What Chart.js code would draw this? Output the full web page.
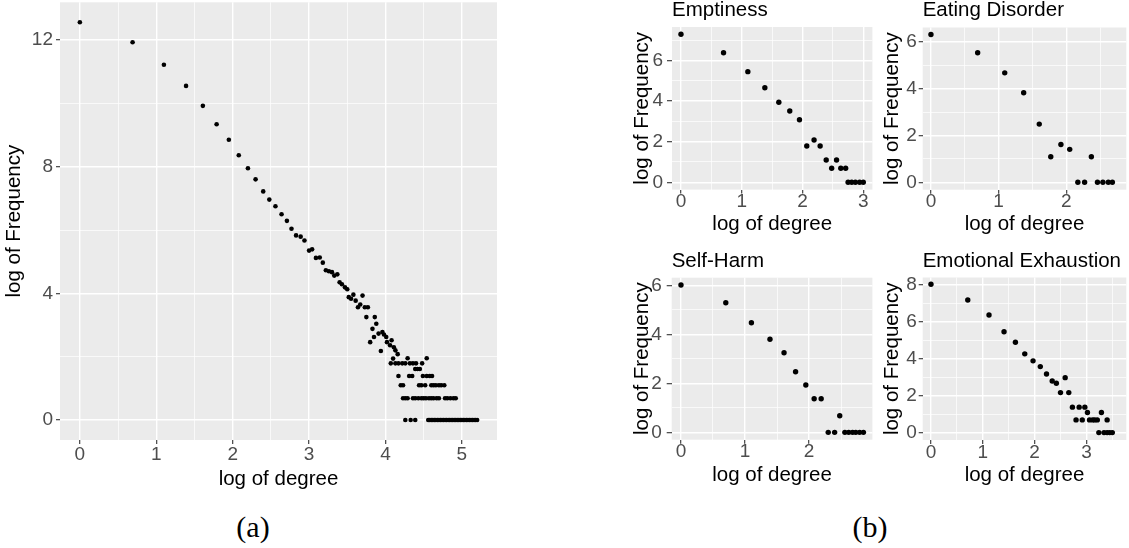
<!DOCTYPE html>
<html><head><meta charset="utf-8">
<script src="https://cdn.jsdelivr.net/npm/chart.js@4.4.1/dist/chart.umd.min.js"></script>
<style>
html,body{margin:0;padding:0;background:#fff;}
#wrap{position:relative;width:1129px;height:548px;overflow:hidden;background:#fff;}
canvas{position:absolute;}
.cap{position:absolute;font-family:'Liberation Serif','DejaVu Serif',serif;font-size:30px;color:#000;transform:translate(-50%,-50%);white-space:nowrap;}
</style></head><body>
<div id="wrap">
<canvas id="cMain" style="left:0px;top:0px;width:530px;height:500px" width="530" height="500"></canvas>
<canvas id="cEmpt" style="left:610px;top:0px;width:280px;height:240px" width="280" height="240"></canvas>
<canvas id="cEat" style="left:870px;top:0px;width:259px;height:240px" width="259" height="240"></canvas>
<canvas id="cSelf" style="left:610px;top:250px;width:280px;height:250px" width="280" height="250"></canvas>
<canvas id="cEmo" style="left:870px;top:250px;width:259px;height:250px" width="259" height="250"></canvas>
<div class="cap" style="left:253px;top:527px">(a)</div>
<div class="cap" style="left:870px;top:527px">(b)</div>
</div>
<script>
// ---------- DATA ----------
const mainX = [
  0, 0.69, 1.10, 1.39, 1.61, 1.79, 1.95, 2.08, 2.20, 2.30,
  2.40, 2.48, 2.56, 2.64, 2.71, 2.77, 2.83, 2.89, 2.94, 3.00,
  3.04, 3.09, 3.14, 3.18, 3.22, 3.26, 3.30, 3.33, 3.37, 3.40,
  3.43, 3.47, 3.50, 3.52, 3.55, 3.58, 3.61, 3.64, 3.67, 3.70,
  3.73, 3.75, 3.77, 3.80, 3.83, 3.85, 3.86, 3.88, 3.91, 3.94,
  3.96, 3.98, 4.01, 4.02, 4.06, 4.08, 4.10, 4.11, 4.13, 4.16,
  4.07, 4.13, 4.17, 4.22, 4.26, 4.32, 4.36, 4.40, 4.48,
  4.29, 4.54,
  4.39, 4.42, 4.45,
  4.17, 4.31, 4.35, 4.49, 4.54, 4.58, 4.61,
  4.20, 4.23, 4.44, 4.47, 4.52, 4.60, 4.63, 4.66, 4.70, 4.73, 4.77,
  4.23, 4.26, 4.29, 4.36, 4.39, 4.43, 4.47, 4.50, 4.53, 4.57, 4.60, 4.63, 4.67, 4.70, 4.78, 4.81, 4.85, 4.89, 4.92,
  4.26, 4.33, 4.39, 4.56, 4.58, 4.60, 4.62, 4.64, 4.66, 4.68, 4.70, 4.72, 4.74, 4.76, 4.78, 4.80, 4.82, 4.84, 4.86,
  4.88, 4.90, 4.92, 4.94, 4.96, 4.98, 5.00, 5.02, 5.04, 5.06, 5.08, 5.10, 5.12, 5.14, 5.16, 5.18, 5.20
];
const mainY = [
  12.56, 11.93, 11.22, 10.55, 9.92, 9.34, 8.85, 8.36, 7.95, 7.60,
  7.22, 6.96, 6.75, 6.50, 6.29, 6.04, 5.83, 5.79, 5.67, 5.35,
  5.39, 5.12, 5.13, 4.97, 4.73, 4.70, 4.67, 4.56, 4.60, 4.35,
  4.29, 4.19, 4.13, 3.88, 3.83, 3.96, 3.77, 3.56, 3.65, 3.93,
  3.56, 3.25, 3.56, 2.46, 2.88, 2.62, 3.25, 3.04, 2.73, 2.18,
  2.78, 2.70, 2.62, 2.46, 2.36, 2.52, 1.94, 2.30, 2.20, 2.08,
  1.79, 1.79, 1.79, 1.79, 1.79, 1.79, 1.79, 1.79, 1.79,
  1.95, 1.95,
  1.61, 1.61, 1.61,
  1.39, 1.39, 1.39, 1.39, 1.39, 1.39, 1.39,
  1.10, 1.10, 1.10, 1.10, 1.10, 1.10, 1.10, 1.10, 1.10, 1.10, 1.10,
  0.69, 0.69, 0.69, 0.69, 0.69, 0.69, 0.69, 0.69, 0.69, 0.69, 0.69, 0.69, 0.69, 0.69, 0.69, 0.69, 0.69, 0.69, 0.69,
  0, 0, 0, 0, 0, 0, 0, 0, 0, 0, 0, 0, 0, 0, 0, 0, 0, 0, 0,
  0, 0, 0, 0, 0, 0, 0, 0, 0, 0, 0, 0, 0, 0, 0, 0, 0
];

const emptinessX = [0, 0.70, 1.10, 1.38, 1.61, 1.79, 1.95, 2.07, 2.19, 2.29, 2.39, 2.48, 2.56, 2.63, 2.71, 2.75, 2.81, 2.87, 2.94, 3.00];
const emptinessY = [7.29, 6.38, 5.45, 4.66, 3.94, 3.51, 3.08, 1.79, 2.08, 1.79, 1.10, 0.69, 1.10, 0.69, 0.69, 0, 0, 0, 0, 0];

const eatingX = [0, 0.69, 1.09, 1.37, 1.60, 1.77, 1.92, 2.05, 2.17, 2.27, 2.37, 2.46, 2.54, 2.62, 2.68];
const eatingY = [6.32, 5.54, 4.68, 3.83, 2.49, 1.09, 1.62, 1.41, 0, 0, 1.09, 0, 0, 0, 0];

const selfHarmX = [0, 0.70, 1.10, 1.39, 1.61, 1.79, 1.95, 2.08, 2.19, 2.30, 2.40, 2.48, 2.56, 2.62, 2.68, 2.73, 2.79, 2.85];
const selfHarmY = [6.01, 5.29, 4.47, 3.80, 3.25, 2.47, 1.93, 1.37, 1.37, 0, 0, 0.68, 0, 0, 0, 0, 0, 0];

const exhaustionX = [0, 0.71, 1.12, 1.41, 1.63, 1.81, 1.97, 2.11, 2.23, 2.34, 2.42, 2.50, 2.59, 2.66, 2.73, 2.80,
  2.86, 2.92, 2.97, 3.02, 3.06, 3.12, 3.16, 3.21, 3.24, 3.29, 3.34, 3.40, 3.40, 3.45, 3.50];
const exhaustionY = [8.04, 7.19, 6.38, 5.47, 4.90, 4.27, 3.89, 3.58, 3.18, 2.80, 2.68, 2.17, 2.98, 2.17, 1.38, 0.69,
  1.38, 0.69, 1.38, 1.09, 0.69, 0.69, 0.69, 0.69, 0, 1.09, 0, 0, 0.69, 0, 0];

// tick labels (major) and minor grid positions
const mainXTicks = [0, 1, 2, 3, 4, 5],  mainXMinor = [0.5, 1.5, 2.5, 3.5, 4.5];
const mainYTicks = [0, 4, 8, 12],       mainYMinor = [2, 6, 10];
const emptXTicks = [0, 1, 2, 3],        emptXMinor = [0.5, 1.5, 2.5];
const emptYTicks = [0, 2, 4, 6],        emptYMinor = [1, 3, 5, 7];
const eatXTicks = [0, 1, 2],            eatXMinor = [0.5, 1.5, 2.5];
const eatYTicks = [0, 2, 4, 6],         eatYMinor = [1, 3, 5];
const selfXTicks = [0, 1, 2],           selfXMinor = [0.5, 1.5, 2.5];
const selfYTicks = [0, 2, 4, 6],        selfYMinor = [1, 3, 5];
const emoXTicks = [0, 1, 2, 3],         emoXMinor = [0.5, 1.5, 2.5, 3.5];
const emoYTicks = [0, 2, 4, 6, 8],      emoYMinor = [1, 3, 5, 7];

const xTitle = 'log of degree';
const yTitle = 'log of Frequency';

// ---------- RENDERING ----------
const FAM = "'Liberation Sans', Arial, Helvetica, sans-serif";
const bgPlugin = {
  id: 'panelBg',
  beforeDraw(chart) {
    const {ctx, chartArea: a} = chart;
    ctx.save();
    ctx.fillStyle = '#EBEBEB';
    ctx.fillRect(a.left, a.top, a.right - a.left, a.bottom - a.top);
    ctx.restore();
  }
};
const isMaj = (list, v) => list.some(m => Math.abs(m - v) < 1e-9);

function axis(o, horizontal) {
  const all = o.major.concat(o.minor).sort((a, b) => a - b);
  return {
    type: 'linear',
    position: horizontal ? 'bottom' : 'left',
    min: o.range[0], max: o.range[1],
    afterBuildTicks: s => { s.ticks = all.map(v => ({value: v})); },
    afterFit: s => {
      if (horizontal) s.height = o.size; else s.width = o.size;
      s.paddingTop = 0; s.paddingBottom = 0; s.paddingLeft = 0; s.paddingRight = 0;
    },
    border: {display: false},
    grid: {
      drawOnChartArea: true, drawTicks: true,
      tickLength: o.tickLen, tickWidth: 1.1,
      color: '#FFFFFF',
      lineWidth: c => (c.tick && isMaj(o.major, c.tick.value)) ? 1.4 : 0.7,
      tickColor: c => (c.tick && isMaj(o.major, c.tick.value)) ? '#333333' : 'rgba(0,0,0,0)'
    },
    ticks: {
      autoSkip: false, maxRotation: 0, minRotation: 0,
      padding: o.tickPad, color: '#4D4D4D',
      font: {family: FAM, size: 19, lineHeight: 1.2},
      callback: v => isMaj(o.major, v) ? String(v) : ''
    },
    title: {
      display: true, text: horizontal ? xTitle : yTitle, color: '#000000',
      font: {family: FAM, size: 20.5, lineHeight: 1.2},
      padding: horizontal ? {top: 0, bottom: 0} : {top: o.titlePad, bottom: 0}
    }
  };
}

function panel(p) {
  const pts = p.xs.map((x, i) => ({x: x, y: p.ys[i]}));
  return new Chart(document.getElementById(p.id), {
    type: 'scatter',
    data: {datasets: [{data: pts, backgroundColor: '#000000', borderWidth: 0, pointRadius: p.radius, pointHoverRadius: p.radius}]},
    options: {
      responsive: false, animation: false, events: [],
      layout: {padding: p.pad},
      scales: {x: axis(p.x, true), y: axis(p.y, false)},
      plugins: {
        legend: {display: false}, tooltip: {enabled: false},
        title: p.title ? {
          display: true, text: p.title, align: 'start', fullSize: false, position: 'top',
          color: '#000000', font: {family: FAM, size: 20.5, weight: 'normal', lineHeight: 1},
          padding: {top: p.titleTop, bottom: p.titleBottom}
        } : {display: false}
      }
    },
    plugins: [bgPlugin]
  });
}

panel({id: 'cMain', xs: mainX, ys: mainY, radius: 2.3,
  pad: {left: 0, top: 0, right: 33, bottom: 8},
  x: {range: [-0.26, 5.46], major: mainXTicks, minor: mainXMinor, size: 52, tickLen: 4, tickPad: -1},
  y: {range: [-0.63, 13.19], major: mainYTicks, minor: mainYMinor, size: 60, tickLen: 4, tickPad: 3, titlePad: 2}});

panel({id: 'cEmpt', xs: emptinessX, ys: emptinessY, radius: 2.7, title: 'Emptiness', titleTop: 0.5, titleBottom: 6,
  pad: {left: 0, top: 0, right: 17.6, bottom: 3.5},
  x: {range: [-0.148, 3.15], major: emptXTicks, minor: emptXMinor, size: 46.9, tickLen: 4, tickPad: -3.5},
  y: {range: [-0.36, 7.65], major: emptYTicks, minor: emptYMinor, size: 62, tickLen: 5, tickPad: 4, titlePad: 20}});

panel({id: 'cEat', xs: eatingX, ys: eatingY, radius: 2.7, title: 'Eating Disorder', titleTop: 0.5, titleBottom: 6.5,
  pad: {left: 0, top: 0, right: 2.3, bottom: 3.5},
  x: {range: [-0.122, 2.886], major: eatXTicks, minor: eatXMinor, size: 46.8, tickLen: 4, tickPad: -3.5},
  y: {range: [-0.316, 6.62], major: eatYTicks, minor: eatYMinor, size: 52.7, tickLen: 4, tickPad: 2, titlePad: 10.5}});

panel({id: 'cSelf', xs: selfHarmX, ys: selfHarmY, radius: 2.7, title: 'Self-Harm', titleTop: 1, titleBottom: 6.2,
  pad: {left: 0, top: 0, right: 17.6, bottom: 12.5},
  x: {range: [-0.145, 2.99], major: selfXTicks, minor: selfXMinor, size: 47.8, tickLen: 4, tickPad: -3},
  y: {range: [-0.30, 6.31], major: selfYTicks, minor: selfYMinor, size: 61.7, tickLen: 5, tickPad: 5, titlePad: 20.5}});

panel({id: 'cEmo', xs: exhaustionX, ys: exhaustionY, radius: 2.7, title: 'Emotional Exhaustion', titleTop: 1, titleBottom: 6,
  pad: {left: 0, top: 0, right: 2.3, bottom: 12.5},
  x: {range: [-0.16, 3.77], major: emoXTicks, minor: emoXMinor, size: 47.5, tickLen: 4, tickPad: -3},
  y: {range: [-0.40, 8.41], major: emoYTicks, minor: emoYMinor, size: 52.7, tickLen: 4, tickPad: 2, titlePad: 10.5}});
</script>
</body></html>
